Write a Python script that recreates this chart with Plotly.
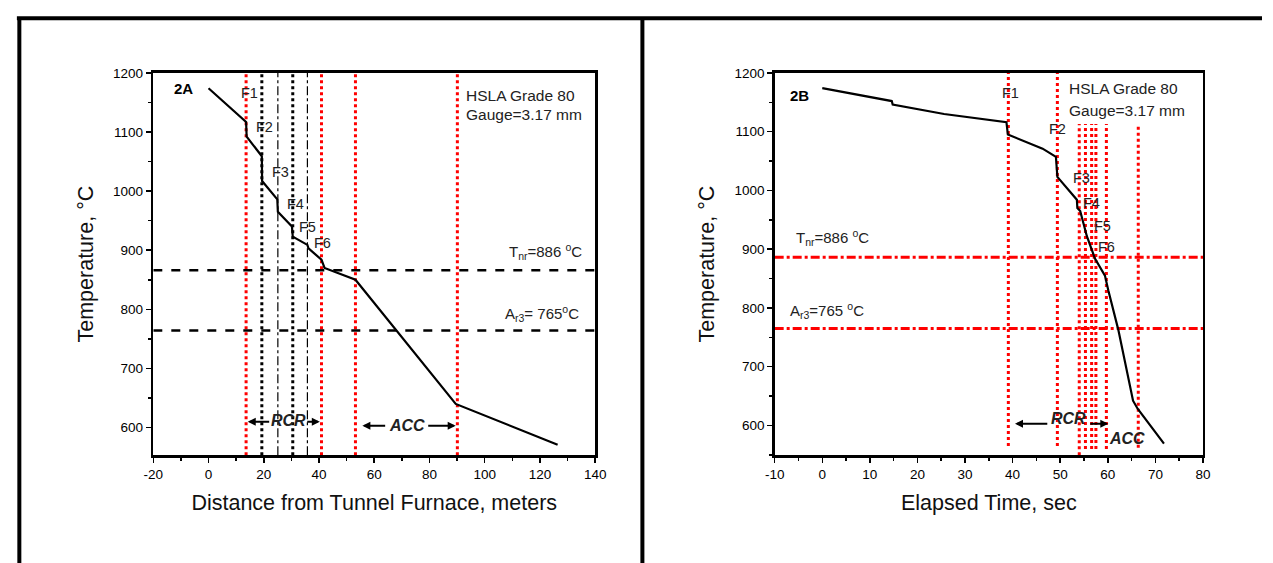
import plotly.graph_objects as go

# ---------------- data: panel 2A (distance) ----------------
dist_x = [0, 13.6, 13.8, 19.3, 19.4, 24.9, 25.1, 30.2, 30.5, 35.8, 36.2, 40.9, 42.0, 53.2, 89.5, 126.4]
dist_t = [1174, 1117, 1092, 1059, 1017, 986, 965, 940, 923, 909, 903, 884, 870, 850, 640, 571]
dist_red_v = [13.6, 40.9, 53.2, 90.1]
dist_blk_thick_v = [19.3, 30.5]
dist_blk_thin_v = [25.1, 35.8]
dist_h = [866, 764]
dist_f_labels = ["F1", "F2", "F3", "F4", "F5", "F6"]
dist_f_x = [14.8, 20.2, 26.0, 31.5, 35.8, 41.2]
dist_f_y = [1166, 1109, 1032, 978, 940, 912]
dist_xtick_vals = [-20, 0, 20, 40, 60, 80, 100, 120, 140]
dist_xtick_text = ["-20", "0", "20", "40", "60", "80", "100", "120", "140"]

# ---------------- data: panel 2B (time) ----------------
time_x = [0, 14.6, 14.8, 25.6, 38.7, 39.0, 46.3, 49.1, 49.4, 53.5, 53.6, 54.2, 55.6, 57.3, 59.4, 60.1, 62.2, 65.3, 66.3, 71.8]
time_t = [1174, 1152, 1146, 1130, 1116, 1095, 1071, 1057, 1023, 984, 970, 965, 922, 884, 855, 830, 763, 642, 628, 569]
time_red_v = [39.1, 49.4, 54.0, 55.3, 56.6, 57.5, 59.7, 66.4]
time_red_v_top = [1200, 1200, 1113, 1113, 1113, 1113, 1113, 1113]
time_red_v_bot = [565, 565, 549, 560, 560, 560, 560, 562]
time_h = [886, 765]
time_f_labels = ["F1", "F2", "F3", "F4", "F5", "F6"]
time_f_x = [39.5, 49.4, 54.4, 56.5, 58.8, 59.8]
time_f_y = [1166, 1105, 1021, 979, 939, 903]
time_xtick_vals = [-10, 0, 10, 20, 30, 40, 50, 60, 70, 80]
time_xtick_text = ["-10", "0", "10", "20", "30", "40", "50", "60", "70", "80"]

temp_ytick_vals = [600, 700, 800, 900, 1000, 1100, 1200]
temp_ytick_text = ["600", "700", "800", "900", "1000", "1100", "1200"]

FONT = "Liberation Sans, Arial, sans-serif"
RED = "#ff0000"

fig = go.Figure()

# ---- panel A lines ----
for xv in dist_red_v:
    fig.add_trace(go.Scatter(x=[xv, xv], y=[553, 1200], mode="lines",
                             line=dict(color=RED, width=3, dash="dot"),
                             xaxis="x", yaxis="y", showlegend=False, hoverinfo="skip"))
for xv in dist_blk_thick_v:
    fig.add_trace(go.Scatter(x=[xv, xv], y=[553, 1200], mode="lines",
                             line=dict(color="black", width=3, dash="dot"),
                             xaxis="x", yaxis="y", showlegend=False, hoverinfo="skip"))
for xv in dist_blk_thin_v:
    fig.add_trace(go.Scatter(x=[xv, xv], y=[553, 1200], mode="lines",
                             line=dict(color="black", width=1.2, dash="dashdot"),
                             xaxis="x", yaxis="y", showlegend=False, hoverinfo="skip"))
for yv in dist_h:
    fig.add_trace(go.Scatter(x=[-20, 140], y=[yv, yv], mode="lines",
                             line=dict(color="black", width=2.5, dash="dash"),
                             xaxis="x", yaxis="y", showlegend=False, hoverinfo="skip"))
fig.add_trace(go.Scatter(x=dist_x, y=dist_t, mode="lines",
                         line=dict(color="black", width=2.2),
                         xaxis="x", yaxis="y", showlegend=False))

# ---- panel B lines ----
for xv, yt, yb in zip(time_red_v, time_red_v_top, time_red_v_bot):
    fig.add_trace(go.Scatter(x=[xv, xv], y=[yb, yt], mode="lines",
                             line=dict(color=RED, width=3, dash="dot"),
                             xaxis="x2", yaxis="y2", showlegend=False, hoverinfo="skip"))
for yv in time_h:
    fig.add_trace(go.Scatter(x=[-10, 80], y=[yv, yv], mode="lines",
                             line=dict(color=RED, width=3, dash="dashdot"),
                             xaxis="x2", yaxis="y2", showlegend=False, hoverinfo="skip"))
fig.add_trace(go.Scatter(x=time_x, y=time_t, mode="lines",
                         line=dict(color="black", width=2.2),
                         xaxis="x2", yaxis="y2", showlegend=False))

ann = []
def txt(x, y, s, xr, yr, size=14, xanchor="center", bold=False, italic=False, color="#222"):
    if bold:
        s = "<b>" + s + "</b>"
    if italic:
        s = "<i>" + s + "</i>"
    ann.append(dict(x=x, y=y, xref=xr, yref=yr, text=s, showarrow=False,
                    xanchor=xanchor, yanchor="middle",
                    font=dict(family=FONT, size=size, color=color)))

def arrow(x_tip, x_tail, y, xr, yr):
    ann.append(dict(x=x_tip, y=y, ax=x_tail, ay=y, xref=xr, yref=yr,
                    axref=xr, ayref=yr, text="", showarrow=True,
                    arrowhead=2, arrowsize=0.8, arrowwidth=2, arrowcolor="black"))

# panel A text
txt(-8.9, 1173, "2A", "x", "y", size=15, bold=True, color="black")
for s, xv, yv in zip(dist_f_labels, dist_f_x, dist_f_y):
    txt(xv, yv, s, "x", "y", size=14.5)
txt(92.5, 1162, "HSLA Grade 80", "x", "y", size=15.5, xanchor="left")
txt(92.5, 1129, "Gauge=3.17 mm", "x", "y", size=15.5, xanchor="left")
txt(108.0, 898, "T<sub>nr</sub>=886 <sup>o</sup>C", "x", "y", size=15, xanchor="left")
txt(106.5, 793, "A<sub>r3</sub>= 765<sup>o</sup>C", "x", "y", size=15, xanchor="left")
txt(29.0, 612, "RCR", "x", "y", size=16, bold=True, italic=True)
arrow(14.2, 22.5, 610, "x", "y")
arrow(40.3, 35.2, 610, "x", "y")
txt(71.7, 603, "ACC", "x", "y", size=16, bold=True, italic=True)
arrow(55.7, 64.5, 603, "x", "y")
arrow(89.5, 79.0, 603, "x", "y")

# panel B text
txt(-4.7, 1162, "2B", "x2", "y2", size=15, bold=True, color="black")
for s, xv, yv in zip(time_f_labels, time_f_x, time_f_y):
    txt(xv, yv, s, "x2", "y2", size=14.5)
txt(51.5, 1174, "HSLA Grade 80", "x2", "y2", size=15.5, xanchor="left")
txt(51.5, 1136, "Gauge=3.17 mm", "x2", "y2", size=15.5, xanchor="left")
txt(-6.0, 920, "T<sub>nr</sub>=886 <sup>o</sup>C", "x2", "y2", size=15, xanchor="left")
txt(-7.1, 796, "A<sub>r3</sub>=765 <sup>o</sup>C", "x2", "y2", size=15, xanchor="left")
txt(51.8, 611, "RCR", "x2", "y2", size=16, bold=True, italic=True)
arrow(40.5, 47.6, 603, "x2", "y2")
arrow(60.1, 56.0, 603, "x2", "y2")
txt(64.0, 578, "ACC", "x2", "y2", size=16, bold=True, italic=True)

W, H = 1273, 563
def px(v):
    return v / W
def py(v):
    return 1 - v / H
def xd(a, b):
    return [px(a), px(b)]
def yd(top, bot):
    return [py(bot), py(top)]

axis_common = dict(showline=True, linecolor="black", linewidth=2.5, mirror=True,
                   ticks="outside", ticklen=5, tickwidth=1.5, tickcolor="black",
                   showgrid=False, zeroline=False,
                   tickfont=dict(family=FONT, size=13.5, color="black"))
def minor(d):
    return dict(ticks="outside", ticklen=3, tickwidth=1.5, tickcolor="black", showgrid=False, dtick=d)

title_font = dict(family=FONT, size=21.5, color="#111")

fig.update_layout(
    width=W, height=H,
    margin=dict(l=0, r=0, t=0, b=0),
    paper_bgcolor="white", plot_bgcolor="white",
    showlegend=False,
    xaxis=dict(domain=xd(145.7, 595), range=[-20, 140], tickmode="array",
               tickvals=dist_xtick_vals, ticktext=dist_xtick_text, anchor="y",
               title=dict(text="Distance from Tunnel Furnace, meters", standoff=14, font=title_font),
               minor=minor(10), **axis_common),
    yaxis=dict(domain=yd(66.7, 454), range=[553, 1200], tickmode="array",
               tickvals=temp_ytick_vals, ticktext=temp_ytick_text, anchor="x",
               title=dict(text="Temperature, °C", standoff=14, font=title_font),
               minor=minor(50), **axis_common),
    xaxis2=dict(domain=xd(777.5, 1213), range=[-10, 80], tickmode="array",
                tickvals=time_xtick_vals, ticktext=time_xtick_text, anchor="y2",
                title=dict(text="Elapsed Time, sec", standoff=14, font=title_font),
                minor=minor(5), **axis_common),
    yaxis2=dict(domain=yd(66.7, 454), range=[549, 1200], tickmode="array",
                tickvals=temp_ytick_vals, ticktext=temp_ytick_text, anchor="x2",
                title=dict(text="Temperature, °C", standoff=14, font=title_font),
                minor=minor(50), **axis_common),
    annotations=ann,
    shapes=[
        dict(type="line", xref="paper", yref="paper", x0=px(7), x1=1, y0=py(11.5), y1=py(11.5),
             line=dict(color="black", width=4)),
        dict(type="line", xref="paper", yref="paper", x0=px(9.5), x1=px(9.5), y0=0, y1=py(11.5),
             line=dict(color="black", width=4)),
        dict(type="line", xref="paper", yref="paper", x0=px(643), x1=px(643), y0=0, y1=py(11.5),
             line=dict(color="black", width=4)),
    ],
)

page_css = ("document.documentElement.style.margin='0';document.documentElement.style.padding='0';"
            "document.documentElement.style.overflow='hidden';"
            "document.body.style.margin='0';document.body.style.padding='0';"
            "document.body.style.overflow='hidden';")
fig.write_html("out.html", post_script=page_css,
               config={"displayModeBar": False, "staticPlot": True})
